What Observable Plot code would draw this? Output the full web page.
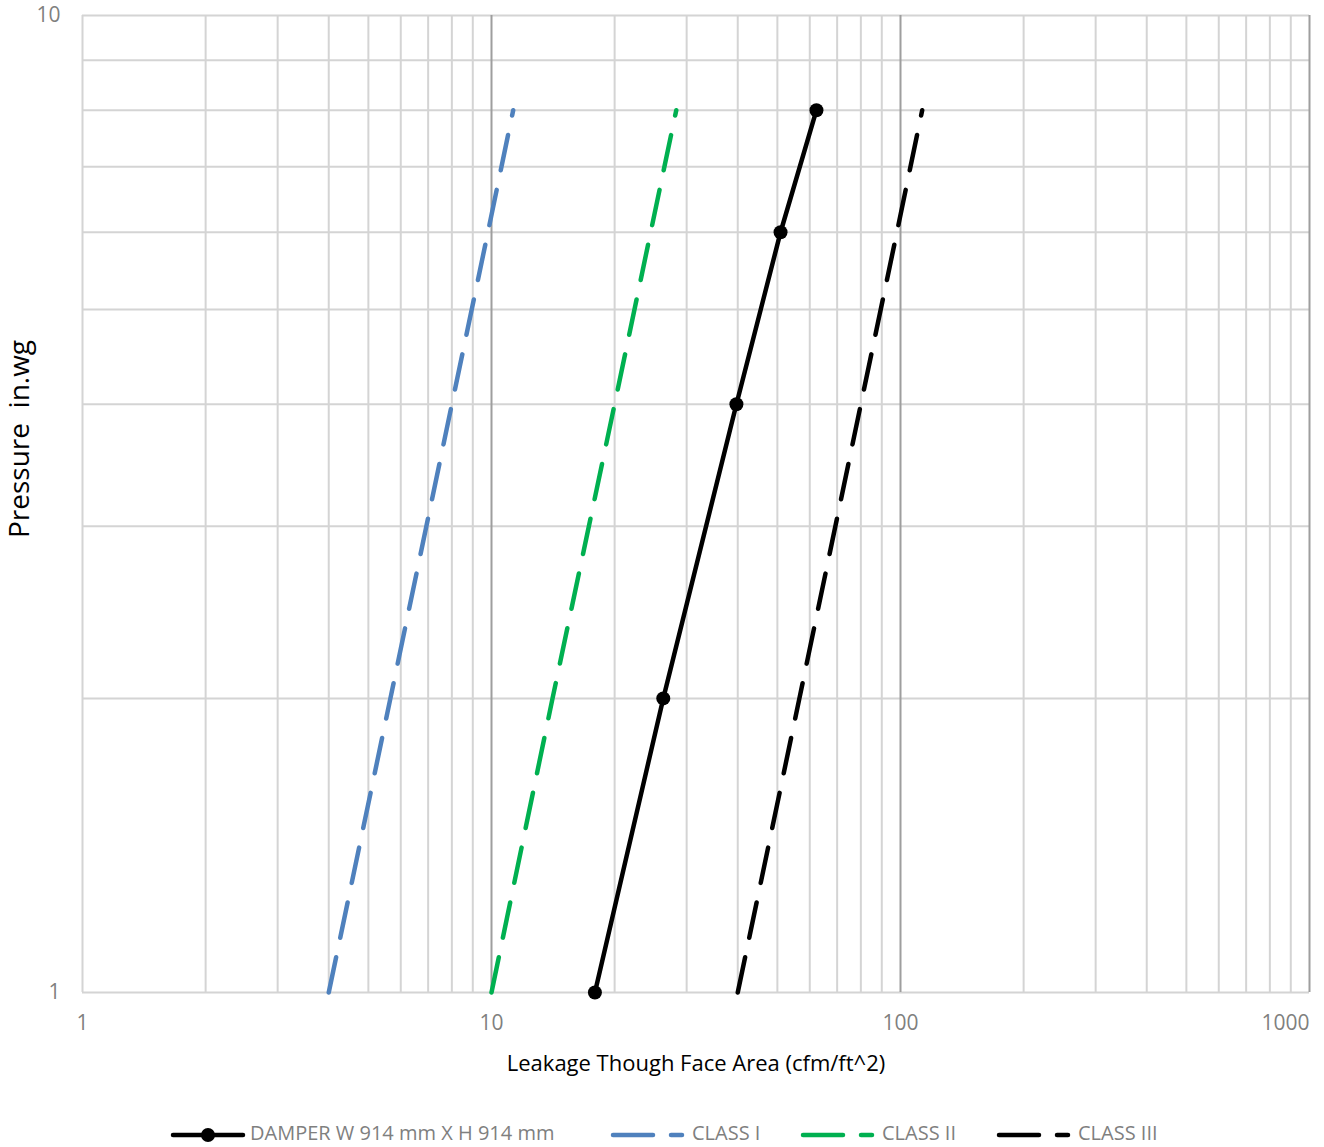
<!DOCTYPE html>
<html>
<head>
<meta charset="utf-8">
<script src="https://cdn.jsdelivr.net/npm/d3@7"></script>
<script src="https://cdn.jsdelivr.net/npm/@observablehq/plot@0.6"></script>
<style>
  body { margin: 0; background: #fff; font-family: "Open Sans", sans-serif; }
  #chart { position: relative; width: 1324px; }
  #legend { position: relative; width: 1324px; height: 37px; margin-top: 10px; }
  .sw { position: absolute; top: 6px; }
  .lt { position: absolute; top: 0; line-height: 26px;
        font-family: "Liberation Sans Narrow", "Open Sans", sans-serif; font-size: 20px; color: #7f7f7f; white-space: nowrap; }
</style>
</head>
<body>
<div id="chart"></div>
<div id="legend"></div>
<script>
const pressure = [1, 2, 4, 6, 8];
const damper = [17.9, 26.3, 39.7, 50.9, 62.3];
const class1 = [4.0, 5.66, 8.0, 9.8, 11.3];
const class2 = [10.0, 14.1, 20.0, 24.5, 28.3];
const class3 = [40.0, 56.6, 80.0, 98.0, 113.0];
const seriesNames = ["DAMPER W 914 mm X H 914 mm", "CLASS I", "CLASS II", "CLASS III"];
const seriesColors = ["#000000", "#4f81bd", "#00b050", "#000000"];
const xTicks = [1, 10, 100, 1000];
const yTicks = [1, 10];
const xGridMinor = [1,2,3,4,5,6,7,8,9,20,30,40,50,60,70,80,90,200,300,400,500,600,700,800,900];
const xGridMajor = [10, 100, 1000];
const yGrid = [1,2,3,4,5,6,7,8,9,10];

const toRows = (vals, name) => vals.map((v, i) => ({x: v, y: pressure[i], s: name}));
const dRows = toRows(damper, seriesNames[0]);
const c1 = toRows(class1, seriesNames[1]);
const c2 = toRows(class2, seriesNames[2]);
const c3 = toRows(class3, seriesNames[3]);

const gridMinor = "#d4d4d4", gridMajor = "#9e9e9e";
const dash = "36 20";
const tickColor = "#7f7f7f";

const plot = Plot.plot({
  width: 1324,
  height: 1110,
  marginLeft: 82,
  marginRight: 15,
  marginTop: 15,
  marginBottom: 118,
  x: {type: "log", domain: [1, 1000], axis: null},
  y: {type: "log", domain: [1, 10], axis: null},
  style: {fontFamily: "Open Sans, sans-serif", background: "#fff", overflow: "visible"},
  marks: [
    Plot.ruleY(yGrid, {stroke: gridMinor, strokeWidth: 2}),
    Plot.ruleX(xGridMinor, {stroke: gridMinor, strokeWidth: 2}),
    Plot.ruleX(xGridMajor, {stroke: gridMajor, strokeWidth: 2}),
    // x tick labels
    Plot.text(xTicks.slice(0, 3), {x: d => d, frameAnchor: "bottom", dy: 31, text: d => String(d),
      fontSize: 21, fill: tickColor, textAnchor: "middle", lineAnchor: "middle"}),
    Plot.text(xTicks.slice(3), {x: d => d, frameAnchor: "bottom", dy: 31, text: d => String(d),
      fontSize: 21, fill: tickColor, textAnchor: "end", lineAnchor: "middle"}),
    // y tick labels
    Plot.text(yTicks, {y: d => d, frameAnchor: "left", dx: -22, text: d => String(d),
      fontSize: 21, fill: tickColor, textAnchor: "end", lineAnchor: "middle"}),
    Plot.text(["Leakage Though Face Area (cfm/ft^2)"], {frameAnchor: "bottom", dy: 71,
      fontSize: 22, fill: "#000", text: d => d, lineAnchor: "middle"}),
    Plot.text(["Pressure  in.wg"], {frameAnchor: "left", dx: -62, dy: 34, rotate: -90,
      fontSize: 28, fill: "#000", text: d => d, textAnchor: "start"}),
    Plot.line(c1, {x: "x", y: "y", stroke: seriesColors[1], strokeWidth: 4.5, strokeDasharray: dash, strokeLinecap: "round"}),
    Plot.line(c2, {x: "x", y: "y", stroke: seriesColors[2], strokeWidth: 4.5, strokeDasharray: dash, strokeLinecap: "round"}),
    Plot.line(c3, {x: "x", y: "y", stroke: seriesColors[3], strokeWidth: 4.5, strokeDasharray: dash, strokeLinecap: "round"}),
    Plot.line(dRows, {x: "x", y: "y", stroke: seriesColors[0], strokeWidth: 4.5}),
    Plot.dot(dRows, {x: "x", y: "y", r: 7, fill: seriesColors[0]})
  ]
});
document.getElementById("chart").appendChild(plot);

// Legend
const legend = document.getElementById("legend");
const swatchLefts = [173, 613, 803, 999];
const textLefts = [250, 692, 882, 1078];
seriesNames.forEach((name, i) => {
  const c = seriesColors[i];
  const sw = document.createElement("div");
  sw.className = "sw";
  sw.style.left = (swatchLefts[i] - 3) + "px";
  if (i === 0) {
    sw.innerHTML = `<svg width="78" height="16"><line x1="3" y1="8" x2="73" y2="8" stroke="${c}" stroke-width="4.5" stroke-linecap="round"/><circle cx="38" cy="8" r="7" fill="${c}"/></svg>`;
  } else {
    sw.innerHTML = `<svg width="78" height="16"><line x1="3" y1="8" x2="43" y2="8" stroke="${c}" stroke-width="4.5" stroke-linecap="round"/><line x1="61" y1="8" x2="72" y2="8" stroke="${c}" stroke-width="4.5" stroke-linecap="round"/></svg>`;
  }
  legend.appendChild(sw);
  const t = document.createElement("div");
  t.className = "lt";
  t.style.left = textLefts[i] + "px";
  t.textContent = name;
  legend.appendChild(t);
});
</script>
</body>
</html>
